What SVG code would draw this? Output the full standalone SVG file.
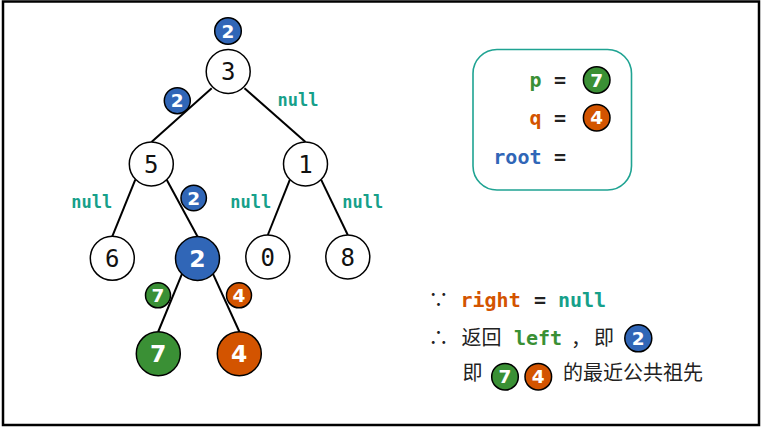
<svg xmlns="http://www.w3.org/2000/svg" width="762" height="429" viewBox="0 0 762 429">
<style>
.frame{fill:#fff;stroke:#000;stroke-width:2.5}
.edge{stroke:#000;stroke-width:2;fill:none}
.wn{fill:#fff;stroke:#000;stroke-width:1.5}
.bl{fill:#3066b7;stroke:#000;stroke-width:1.5}
.gr{fill:#3a9035;stroke:#000;stroke-width:1.5}
.or{fill:#d35400;stroke:#000;stroke-width:1.5}
.wt{font-family:"DejaVu Sans Mono",monospace;font-size:24px;fill:#111;text-anchor:middle}
.ct{font-family:"DejaVu Sans",sans-serif;font-weight:bold;font-size:23.5px;fill:#fff;text-anchor:middle}
.bt{font-family:"DejaVu Sans",sans-serif;font-weight:bold;font-size:18.5px;fill:#fff;text-anchor:middle}
.nul{font-family:"DejaVu Sans Mono",monospace;font-weight:bold;font-size:17px;fill:#16a08a;text-anchor:middle}
.code{font-family:"DejaVu Sans Mono",monospace;font-weight:bold;font-size:20px}
.cjk{font-family:"Noto Sans CJK SC","Noto Sans",sans-serif;font-size:20px;fill:#222}
.box{fill:#fff;stroke:#1fa392;stroke-width:1.6}
</style>
<rect class="frame" x="3" y="1.5" width="756" height="423.5"/>
<g id="connectors">
<line class="edge" x1="211.7" y1="88.3" x2="151.5" y2="142"/>
<line class="edge" x1="244.5" y1="88.3" x2="305.5" y2="142"/>
<line class="edge" x1="135.3" y1="179.7" x2="112.3" y2="236.3"/>
<line class="edge" x1="166.7" y1="179.7" x2="197.5" y2="236.5"/>
<line class="edge" x1="289.9" y1="179.6" x2="267.8" y2="235"/>
<line class="edge" x1="321.1" y1="179.6" x2="347.8" y2="235"/>
<line class="edge" x1="181.9" y1="274.1" x2="158.3" y2="331.5"/>
<line class="edge" x1="213.1" y1="274.1" x2="239.3" y2="331.5"/>
</g>
<g id="n3"><circle class="wn" cx="228.2" cy="71.5" r="22"/><text class="wt" x="228.2" y="80.3">3</text></g>
<g id="n5"><circle class="wn" cx="151.3" cy="164" r="22"/><text class="wt" x="151.3" y="172.8">5</text></g>
<g id="n1"><circle class="wn" cx="305.5" cy="164" r="22"/><text class="wt" x="305.5" y="172.8">1</text></g>
<g id="n6"><circle class="wn" cx="112.3" cy="258.3" r="22"/><text class="wt" x="112.3" y="267.1">6</text></g>
<g id="n2"><circle class="bl" cx="197.5" cy="258.5" r="22"/><text class="ct" x="197.5" y="267">2</text></g>
<g id="n0"><circle class="wn" cx="267.8" cy="257" r="22"/><text class="wt" x="267.8" y="265.8">0</text></g>
<g id="n8"><circle class="wn" cx="347.8" cy="257" r="22"/><text class="wt" x="347.8" y="265.8">8</text></g>
<g id="n7"><circle class="gr" cx="158.3" cy="353.7" r="22"/><text class="ct" x="158.3" y="362.2">7</text></g>
<g id="n4"><circle class="or" cx="239.3" cy="353.7" r="22"/><text class="ct" x="239.3" y="362.2">4</text></g>
<g id="badge-top"><circle class="bl" cx="228" cy="31" r="13.3"/><text class="bt" x="228" y="37.7">2</text></g>
<g id="badge-left"><circle class="bl" cx="177.3" cy="100.7" r="13"/><text class="bt" x="177.3" y="107.4">2</text></g>
<g id="badge-mid"><circle class="bl" cx="193.7" cy="198" r="12.7"/><text class="bt" x="193.7" y="204.7">2</text></g>
<g id="badge-7"><circle class="gr" cx="158" cy="295.3" r="12.5"/><text class="bt" x="158" y="302">7</text></g>
<g id="badge-4"><circle class="or" cx="239" cy="295.3" r="12.5"/><text class="bt" x="239" y="302">4</text></g>
<g id="nulls">
<text class="nul" x="298" y="106">null</text>
<text class="nul" x="91.7" y="208">null</text>
<text class="nul" x="250.7" y="208">null</text>
<text class="nul" x="362.7" y="208">null</text>
</g>
<g id="vars">
<rect class="box" x="473" y="49.5" width="158.5" height="140.5" rx="24"/>
<text class="code" x="541.5" y="86.5" text-anchor="end" fill="#3a9035">p</text>
<text class="code" x="560" y="86.5" text-anchor="middle" fill="#222">=</text>
<circle class="gr" cx="596.7" cy="80" r="13.3"/><text class="bt" x="596.7" y="86.7">7</text>
<text class="code" x="541.5" y="124.5" text-anchor="end" fill="#d35400">q</text>
<text class="code" x="560" y="124.5" text-anchor="middle" fill="#222">=</text>
<circle class="or" cx="596.7" cy="117.7" r="13.3"/><text class="bt" x="596.7" y="124.4">4</text>
<text class="code" x="541.5" y="164" text-anchor="end" fill="#3066b7">root</text>
<text class="code" x="560" y="163.5" text-anchor="middle" fill="#222">=</text>
</g>
<g id="explain">
<text class="cjk" x="438.5" y="307" text-anchor="middle">∵</text>
<text class="code" x="460.5" y="306.7" fill="#d35400">right</text>
<text class="code" x="540" y="306.7" text-anchor="middle" fill="#222">=</text>
<text class="code" x="558" y="306.7" fill="#16a08a">null</text>
<text class="cjk" x="438.5" y="345" text-anchor="middle">∴</text>
<text class="cjk" x="461.5" y="345">返回</text>
<text class="code" x="514" y="345" fill="#3a9035">left</text>
<text class="cjk" x="571" y="346">，</text>
<text class="cjk" x="594" y="345">即</text>
<circle class="bl" cx="638.3" cy="338.3" r="13.5"/><text class="bt" x="638.3" y="345">2</text>
<text class="cjk" x="462.5" y="380">即</text>
<circle class="gr" cx="505" cy="376.7" r="13.3"/><text class="bt" x="505" y="383.4">7</text>
<circle class="or" cx="538.3" cy="376.7" r="13.3"/><text class="bt" x="538.3" y="383.4">4</text>
<text class="cjk" x="563" y="380">的最近公共祖先</text>
</g>
</svg>
